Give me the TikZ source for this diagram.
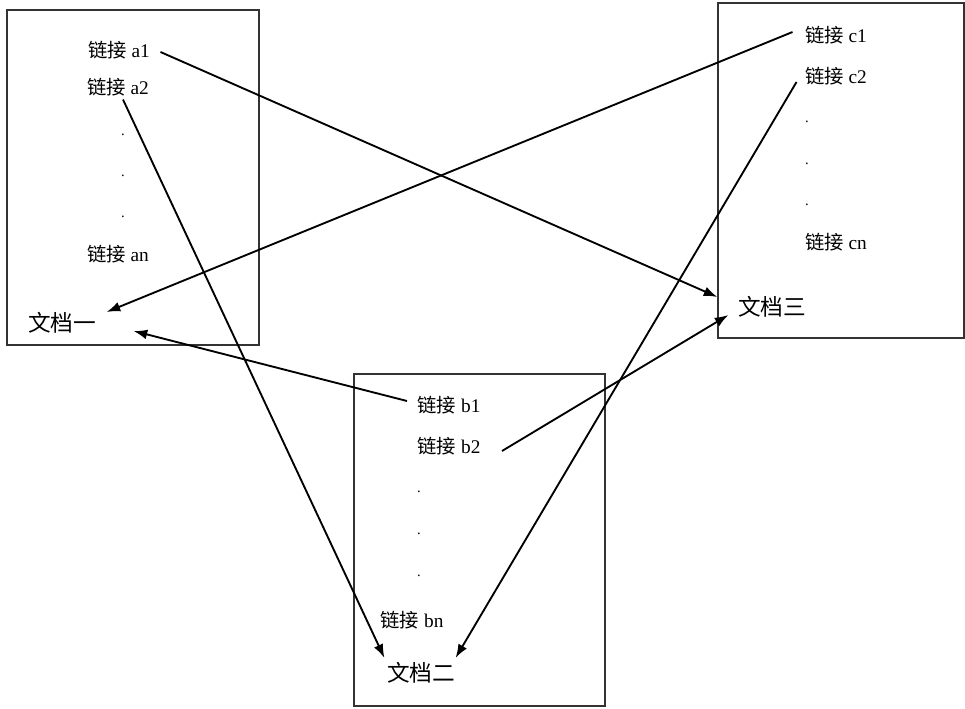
\documentclass[tikz,border=0pt]{standalone}
\usepackage{fontspec}
\setmainfont{Liberation Serif}
\newfontfamily\cjk{Noto Sans CJK SC}
\usetikzlibrary{arrows.meta}

\begin{document}
\begin{tikzpicture}[x=0.75pt,y=-0.75pt,
    docframe/.style={draw=black!80,line width=1.3pt},
    linklabel/.style={font=\fontsize{14.5}{16}\selectfont,inner sep=1pt},
    doclabel/.style={font=\fontsize{17}{20}\selectfont\cjk,inner sep=1pt},
    vdot/.style={font=\fontsize{11}{12}\selectfont,inner sep=0pt},
    linkarrow/.style={-{Latex[length=3.6mm,width=2.6mm]},line width=1.4pt}]
    \useasboundingbox (0,0) rectangle (965,709);

    % the three documents
    \draw[docframe] (7,10) rectangle (259,345);
    \draw[docframe] (354,374) rectangle (605,706);
    \draw[docframe] (718,3) rectangle (964,338);

    % document one
    \node[linklabel] (a1) at (119,50) {{\cjk 链接} a1};
    \node[linklabel] (a2) at (118,87) {{\cjk 链接} a2};
    \node[vdot] (ad1) at (123,135) {.};
    \node[vdot] (ad2) at (123,176) {.};
    \node[vdot] (ad3) at (123,217) {.};
    \node[linklabel] (an) at (118,254) {{\cjk 链接} an};
    \node[doclabel] (doc1) at (62,323) {文档一};

    % document two
    \node[linklabel] (b1) at (449,405) {{\cjk 链接} b1};
    \node[linklabel] (b2) at (449,446) {{\cjk 链接} b2};
    \node[vdot] (bd1) at (419,492) {.};
    \node[vdot] (bd2) at (419,534) {.};
    \node[vdot] (bd3) at (419,576) {.};
    \node[linklabel] (bn) at (412,620) {{\cjk 链接} bn};
    \node[doclabel] (doc2) at (421,673) {文档二};

    % document three
    \node[linklabel] (c1) at (836,35) {{\cjk 链接} c1};
    \node[linklabel] (c2) at (836,76) {{\cjk 链接} c2};
    \node[vdot] (cd1) at (807,122) {.};
    \node[vdot] (cd2) at (807,164) {.};
    \node[vdot] (cd3) at (807,205) {.};
    \node[linklabel] (cn) at (836,242) {{\cjk 链接} cn};
    \node[doclabel] (doc3) at (772,307) {文档三};

    % links
    \draw[linkarrow] ([shift={(9,2)}]a1.east) -- ([shift={(-19,-10)}]doc3.west);
    \draw[linkarrow] ([shift={(5,2)}]a2.south) -- ([shift={(-1,-3)}]doc2.north west);
    \draw[linkarrow] ([shift={(-11,-3)}]c1.west) -- ([shift={(9,-11)}]doc1.east);
    \draw[linkarrow] ([shift={(-7,6)}]c2.west) -- ([shift={(-1,-3)}]doc2.north east);
    \draw[linkarrow] ([shift={(-9,-4)}]b1.west) -- ([shift={(36,8)}]doc1.east);
    \draw[linkarrow] ([shift={(20,5)}]b2.east) -- ([shift={(-8,8)}]doc3.west);
\end{tikzpicture}
\end{document}
